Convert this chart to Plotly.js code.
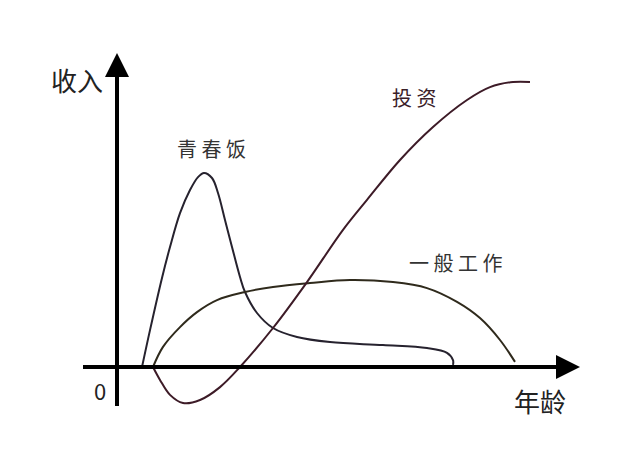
<!DOCTYPE html>
<html>
<head>
<meta charset="utf-8">
<script src="https://cdn.plot.ly/plotly-3.0.1.min.js"></script>
<style>html,body{margin:0;padding:0;background:#fff;}#chart{width:633px;height:467px;}</style>
</head>
<body>
<div id="chart"></div>
<script>
// 青春饭 (youth job)
const youthAge = [5, 6.6, 9, 10.6, 12.6, 14.6, 16.2, 17.4, 19, 20.2, 21.6, 23, 24.6, 25.6, 28, 31.2, 36, 42.6, 53.2, 62, 66, 67.2, 67.2];
const youthIncome = [0, 12.3, 29.7, 40, 51.3, 59, 63.3, 64.7, 63, 58, 49, 40, 30, 25, 18, 13, 10, 8.3, 7.3, 6.3, 4.7, 2.3, 0.7];
// 一般工作 (ordinary job)
const workAge = [7.2, 9.2, 12.6, 16, 20, 25.6, 31.2, 38.6, 46.6, 55.2, 62, 68, 72.6, 76.6, 79.6];
const workIncome = [0, 6.7, 13.3, 18.3, 22.3, 25, 26.7, 28, 29, 28.3, 26.3, 21.7, 16.3, 9, 1.7];
// 投资 (investment)
const investAge = [7.2, 8.6, 10.6, 13.2, 16.6, 20.6, 24.6, 31.2, 38, 45.2, 50, 56.6, 63.2, 70, 74.6, 79.2, 82.6];
const investIncome = [0, -4.3, -9.3, -12, -11, -6.7, 0, 13, 28.3, 45.7, 55.7, 69, 80, 89, 93.3, 95, 95];

const curveLabels = ['青 春 饭', '一 般 工 作', '投 资'];
const axisLabels = {y: '收入', x: '年龄', origin: '0'};

const font = '"Noto Sans CJK SC", "Noto Sans", sans-serif';

const traces = [
  {x: youthAge, y: youthIncome, mode: 'lines', line: {color: '#26222e', width: 2, shape: 'spline', smoothing: 1}, hoverinfo: 'skip'},
  {x: workAge, y: workIncome, mode: 'lines', line: {color: '#2f2a1c', width: 2, shape: 'spline', smoothing: 1}, hoverinfo: 'skip'},
  {x: investAge, y: investIncome, mode: 'lines', line: {color: '#3d1b27', width: 2, shape: 'spline', smoothing: 1}, hoverinfo: 'skip'}
];

const layout = {
  width: 633, height: 467,
  margin: {l: 0, r: 0, t: 0, b: 0},
  paper_bgcolor: '#ffffff', plot_bgcolor: '#ffffff',
  showlegend: false,
  xaxis: {range: [-23.4, 103.2], visible: false, fixedrange: true},
  yaxis: {range: [-33.333, 122.333], visible: false, fixedrange: true},
  shapes: [
    {type: 'line', xref: 'x', yref: 'y', x0: -6.8, x1: 90, y0: 0, y1: 0, line: {color: '#000', width: 4}},
    {type: 'line', xref: 'x', yref: 'y', x0: 0, x1: 0, y0: -13, y1: 102, line: {color: '#000', width: 4}}
  ],
  annotations: [
    // arrow heads
    {x: 92.6, y: 0, ax: 88, ay: 0, axref: 'x', ayref: 'y', xref: 'x', yref: 'y', text: '', showarrow: true, arrowhead: 2, arrowsize: 1.2, arrowwidth: 4, arrowcolor: '#000'},
    {x: 0, y: 104.7, ax: 0, ay: 99, axref: 'x', ayref: 'y', xref: 'x', yref: 'y', text: '', showarrow: true, arrowhead: 2, arrowsize: 1.2, arrowwidth: 4, arrowcolor: '#000'},
    // axis labels
    {x: -8, y: 95.7, xref: 'x', yref: 'y', text: axisLabels.y, showarrow: false, font: {family: font, size: 26, color: '#222'}},
    {x: 84.6, y: -11, xref: 'x', yref: 'y', text: axisLabels.x, showarrow: false, font: {family: font, size: 26, color: '#222'}},
    {x: -3.4, y: -7.7, xref: 'x', yref: 'y', text: axisLabels.origin, showarrow: false, font: {family: font, size: 22, color: '#222'}},
    // curve labels
    {x: 18.8, y: 73, xref: 'x', yref: 'y', text: curveLabels[0], showarrow: false, font: {family: font, size: 20, color: '#333'}},
    {x: 67.6, y: 34.7, xref: 'x', yref: 'y', text: curveLabels[1], showarrow: false, font: {family: font, size: 20, color: '#333'}},
    {x: 59.3, y: 90, xref: 'x', yref: 'y', text: curveLabels[2], showarrow: false, font: {family: font, size: 20, color: '#3a2028'}}
  ]
};

Plotly.newPlot('chart', traces, layout, {staticPlot: true, displayModeBar: false});
</script>
</body>
</html>
